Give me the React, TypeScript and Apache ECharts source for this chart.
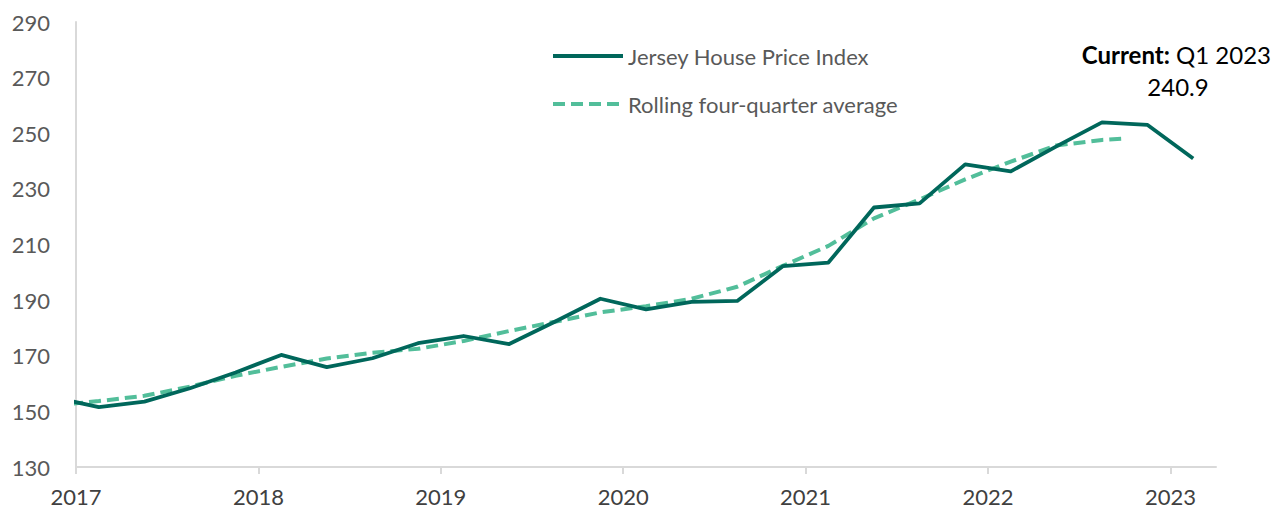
import React, { useEffect, useRef } from "react";
import * as echarts from "echarts";

// Quarter labels (quarterly observations, plotted at mid-quarter)
const quarters = [
  "2016 Q4",
  "2017 Q1", "2017 Q2", "2017 Q3", "2017 Q4",
  "2018 Q1", "2018 Q2", "2018 Q3", "2018 Q4",
  "2019 Q1", "2019 Q2", "2019 Q3", "2019 Q4",
  "2020 Q1", "2020 Q2", "2020 Q3", "2020 Q4",
  "2021 Q1", "2021 Q2", "2021 Q3", "2021 Q4",
  "2022 Q1", "2022 Q2", "2022 Q3", "2022 Q4",
  "2023 Q1",
];

const hpiValues = [
  155.1,
  151.5, 153.5, 158.3, 164.0,
  170.3, 165.9, 169.1, 174.5,
  177.1, 174.2, 182.2, 190.5,
  186.7, 189.4, 189.7, 202.2,
  203.5, 223.3, 224.8, 238.8,
  236.3, 245.3, 253.9, 253.0,
  240.9,
];

const rollingValues = [
  152.1,
  153.7, 155.6, 158.9, 162.8,
  166.0, 169.0, 171.1, 172.5,
  175.3, 178.9, 182.2, 185.6,
  187.8, 190.5, 194.8, 202.3,
  209.5, 219.4, 226.2, 233.4,
  239.8, 245.6, 247.6,
];
// where the rolling average line ends
const rollingEnd: [number, number] = [2022.73, 248.0];

const yearTicks = [2017, 2018, 2019, 2020, 2021, 2022, 2023];
const yMin = 130;
const yMax = 290;
const yStep = 20;
const xMax = 2023.25;

const seriesNames = ["Jersey House Price Index", "Rolling four-quarter average"];
const currentLabel = "Q1 2023";

const quarterPos = (q: string) => {
  const [y, qq] = q.split(" Q");
  return Number(y) + (Number(qq) - 0.5) / 4;
};

const FONT = "Lato, 'Noto Sans', sans-serif";

export default function App() {
  const ref = useRef<HTMLDivElement>(null);
  useEffect(() => {
    if (!ref.current) return;
    const chart = echarts.init(ref.current, null, { renderer: "svg" });
    const hpiData = quarters.map((q, i) => [quarterPos(q), hpiValues[i]]);
    const rollData: number[][] = rollingValues.map((v, i) => [quarterPos(quarters[i]), v]);
    rollData.push(rollingEnd);
    const last = hpiValues[hpiValues.length - 1];
    chart.setOption({
      animation: false,
      backgroundColor: "#ffffff",
      grid: { left: 76, right: 58, top: 22, bottom: 45, containLabel: false },
      legend: {
        orient: "vertical",
        left: 546,
        top: 38,
        itemWidth: 70,
        itemHeight: 14,
        itemGap: 22,
        itemStyle: { opacity: 0 },
        lineStyle: { width: 4 },
        textStyle: { fontSize: 22, lineHeight: 26, color: "#595959", fontFamily: FONT },
        data: seriesNames,
      },
      xAxis: {
        type: "value",
        min: 2017,
        max: xMax,
        interval: 1,
        axisLine: { show: true, lineStyle: { color: "#d9d9d9", width: 2 } },
        axisTick: { show: true, customValues: yearTicks, length: 7, lineStyle: { color: "#d9d9d9", width: 2 } },
        axisLabel: {
          customValues: yearTicks,
          formatter: (v: number) => String(v),
          fontSize: 22,
          color: "#404040",
          fontFamily: FONT,
          margin: 18,
        },
        splitLine: { show: false },
      },
      yAxis: {
        type: "value",
        min: yMin,
        max: yMax,
        interval: yStep,
        axisLine: { show: true, lineStyle: { color: "#d9d9d9", width: 2 } },
        axisTick: { show: false },
        axisLabel: { fontSize: 22, color: "#595959", fontFamily: FONT, margin: 26 },
        splitLine: { show: false },
      },
      series: [
        {
          name: seriesNames[0],
          type: "line",
          data: hpiData,
          symbol: "none",
          clip: true,
          z: 3,
          lineStyle: { color: "#00675B", width: 3.8, join: "round" },
          itemStyle: { color: "#00675B" },
        },
        {
          name: seriesNames[1],
          type: "line",
          data: rollData,
          symbol: "none",
          clip: true,
          z: 2,
          lineStyle: { color: "#52BE9A", width: 4, type: [12, 6] },
          itemStyle: { color: "#52BE9A" },
        },
      ],
      graphic: [
        {
          type: "text",
          x: 1271,
          y: 54,
          style: {
            text: "{b|Current:} " + currentLabel,
            rich: { b: { fontWeight: "bold", fontSize: 24, fontFamily: FONT, fill: "#000" } },
            fontSize: 24,
            fontFamily: FONT,
            fill: "#000",
            textAlign: "right",
            textVerticalAlign: "middle",
          },
        },
        {
          type: "text",
          x: 1178,
          y: 86,
          style: {
            text: last.toFixed(1),
            fontSize: 24,
            fontFamily: FONT,
            fill: "#000",
            textAlign: "center",
            textVerticalAlign: "middle",
          },
        },
      ],
    });
    return () => chart.dispose();
  }, []);
  return (
    <div
      ref={ref}
      style={{ position: "absolute", left: 0, top: 0, width: 1274, height: 512 }}
    />
  );
}
